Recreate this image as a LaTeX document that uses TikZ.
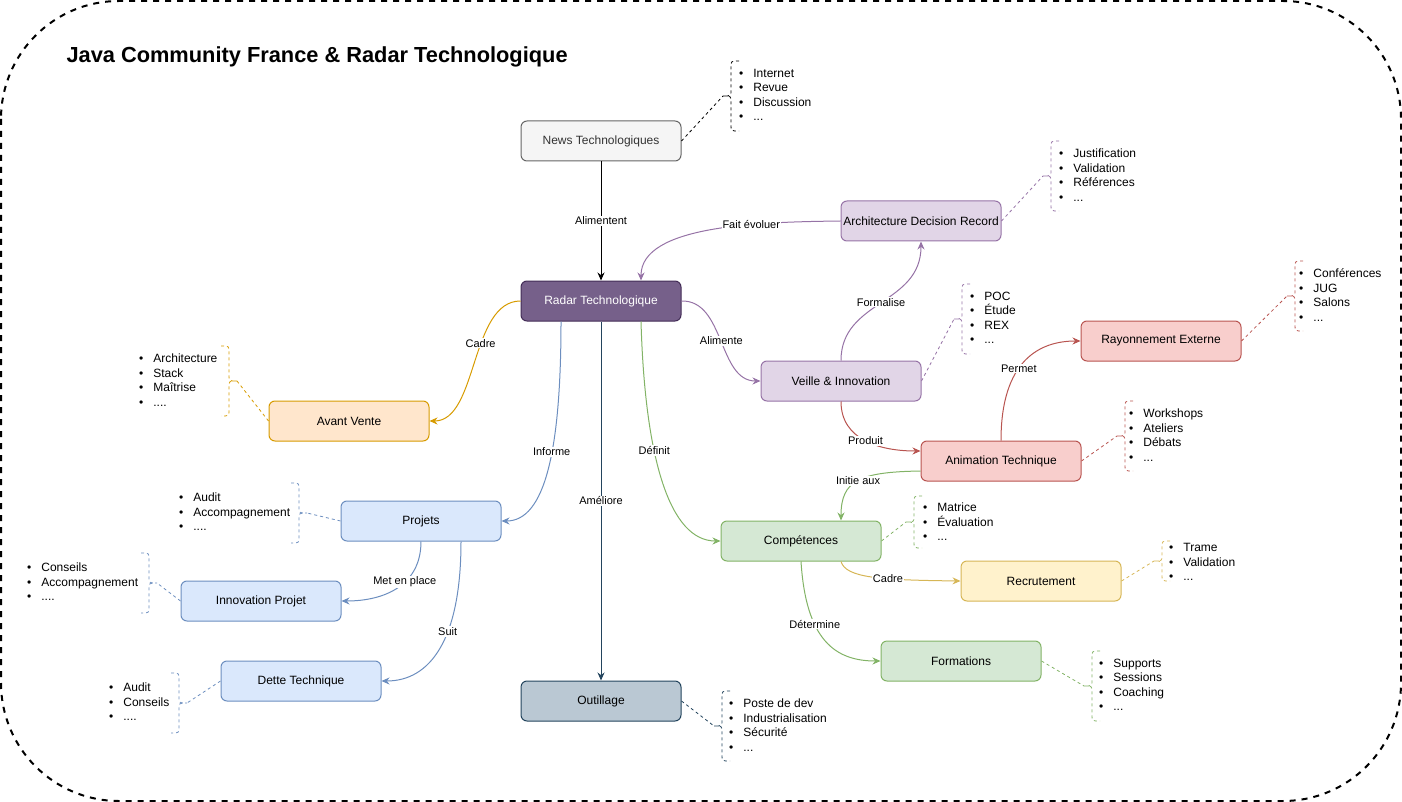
\documentclass[tikz,border=0pt]{standalone}
\usepackage{fontspec}
\setmainfont{Liberation Sans}
\usetikzlibrary{arrows.meta}

\definecolor{newsfill}{HTML}{F5F5F5}
\definecolor{newsline}{HTML}{666666}
\definecolor{newstext}{HTML}{333333}
\definecolor{radarfill}{HTML}{76608A}
\definecolor{radarline}{HTML}{432D57}
\definecolor{violfill}{HTML}{E1D5E7}
\definecolor{violline}{HTML}{9673A6}
\definecolor{rougefill}{HTML}{F8CECC}
\definecolor{rougeline}{HTML}{B85450}
\definecolor{orangefill}{HTML}{FFE6CC}
\definecolor{orangeline}{HTML}{D79B00}
\definecolor{bleufill}{HTML}{DAE8FC}
\definecolor{bleuline}{HTML}{6C8EBF}
\definecolor{vertfill}{HTML}{D5E8D4}
\definecolor{vertline}{HTML}{82B366}
\definecolor{jaunefill}{HTML}{FFF2CC}
\definecolor{jauneline}{HTML}{D6B656}
\definecolor{outilfill}{HTML}{BAC8D3}
\definecolor{outilline}{HTML}{23445D}

\tikzset{
  box/.style={draw, rounded corners=6pt, minimum width=160pt, minimum height=40pt,
    inner sep=0pt, line width=1pt, font=\fontsize{12}{14}\selectfont},
  lien/.style={line width=1pt, ->, >={Stealth[length=8pt,width=7pt]}},
  etiq/.style={fill=white, inner sep=1pt, text=black, font=\fontsize{11}{13}\selectfont},
  annot/.style={line width=0.8pt, dash pattern=on 3pt off 3pt},
  liste/.style={anchor=west, inner sep=0pt, align=left, font=\fontsize{12}{14.5}\selectfont},
  pics/lbrace/.style={code={
    \draw[annot] (8,-#1) .. controls (0,-#1) .. (0,-#1+6) -- (0,-6)
      .. controls (0,0) .. (-8,0) .. controls (0,0) .. (0,6) -- (0,#1-6)
      .. controls (0,#1) .. (8,#1);
    \coordinate (-tip) at (-8,0);
  }},
  pics/rbrace/.style={code={
    \draw[annot] (-8,-#1) .. controls (0,-#1) .. (0,-#1+6) -- (0,-6)
      .. controls (0,0) .. (8,0) .. controls (0,0) .. (0,6) -- (0,#1-6)
      .. controls (0,#1) .. (-8,#1);
    \coordinate (-tip) at (8,0);
  }},
}

\newcommand{\puce}{\textbullet\hspace{10pt}}

\begin{document}
\begin{tikzpicture}[x=1pt, y=-1pt]

\useasboundingbox (0,0) rectangle (1402,802);
\draw [line width=2pt, dash pattern=on 6pt off 6pt, rounded corners=118pt] (1,1) rectangle (1401,801);

\node [anchor=base west, font=\bfseries\fontsize{21.8}{26}\selectfont] (titre) at (63,63) {Java Community France \& Radar Technologique};

% boites
\node [box, fill=newsfill, draw=newsline, text=newstext] (news) at (601,141) {News Technologiques};
\node [box, fill=radarfill, draw=radarline, text=white] (radar) at (601,301) {Radar Technologique};
\node [box, fill=violfill, draw=violline] (adr) at (921,221) {Architecture Decision Record};
\node [box, fill=violfill, draw=violline] (veille) at (841,381) {Veille \& Innovation};
\node [box, fill=rougefill, draw=rougeline] (rayon) at (1161,341) {Rayonnement Externe};
\node [box, fill=rougefill, draw=rougeline] (anim) at (1001,461) {Animation Technique};
\node [box, fill=orangefill, draw=orangeline] (avant) at (349,421) {Avant Vente};
\node [box, fill=bleufill, draw=bleuline] (projets) at (421,521) {Projets};
\node [box, fill=bleufill, draw=bleuline] (innov) at (261,601) {Innovation Projet};
\node [box, fill=bleufill, draw=bleuline] (dette) at (301,681) {Dette Technique};
\node [box, fill=vertfill, draw=vertline] (compet) at (801,541) {Compétences};
\node [box, fill=jaunefill, draw=jauneline] (recrut) at (1041,581) {Recrutement};
\node [box, fill=vertfill, draw=vertline] (form) at (961,661) {Formations};
\node [box, fill=outilfill, draw=outilline] (outil) at (601,701) {Outillage};

% liens
\draw [lien] (news) -- node[etiq] {Alimentent} (radar);
\draw [lien, violline] (adr.west) .. controls (760,222) and (641,225) .. ([xshift=40pt]radar.north) node[etiq, pos=0.34] {Fait évoluer};
\draw [lien, violline] (radar.east) .. controls (725,300) and (718,381) .. (veille.west) node[etiq, pos=0.5] {Alimente};
\draw [lien, violline] (veille.north) .. controls (841,300) and (921,305) .. (adr.south) node[etiq, pos=0.5] {Formalise};
\draw [lien, rougeline] (veille.south) .. controls (841,440) and (880,451) .. ([yshift=10pt]anim.west) node[etiq, pos=0.5] {Produit};
\draw [lien, rougeline] (anim.north) .. controls (1001,360) and (1040,341) .. (rayon.west) node[etiq, pos=0.42] {Permet};
\draw [lien, vertline] ([yshift=-10pt]anim.west) .. controls (860,472) and (841,480) .. ([xshift=40pt]compet.north) node[etiq, pos=0.5] {Initie aux};
\draw [lien, orangeline] (radar.west) .. controls (470,301) and (478,421) .. (avant.east) node[etiq, pos=0.4] {Cadre};
\draw [lien, bleuline] ([xshift=-40pt]radar.south) .. controls (561,450) and (545,521) .. (projets.east) node[etiq, pos=0.42] {Informe};
\draw [lien, outilline] (radar) -- node[etiq] {Améliore} (outil);
\draw [lien, vertline] ([xshift=40pt]radar.south) .. controls (645,460) and (670,541) .. (compet.west) node[etiq, pos=0.37] {Définit};
\draw [lien, bleuline] (projets.south) .. controls (421,585) and (385,601) .. (innov.east) node[etiq, pos=0.41] {Met en place};
\draw [lien, bleuline] ([xshift=40pt]projets.south) .. controls (461,640) and (430,681) .. (dette.east) node[etiq, pos=0.39] {Suit};
\draw [lien, jauneline] ([xshift=40pt]compet.south) .. controls (846,578) and (880,580) .. (recrut.west) node[etiq, pos=0.62] {Cadre};
\draw [lien, vertline] (compet.south) .. controls (806,640) and (835,661) .. (form.west) node[etiq, pos=0.35] {Détermine};

% accolades et listes
\pic [black] (newsb) at (731,96) {lbrace=35};
\draw [annot] (news.east) -- (newsb-tip);
\node [liste] (newsl) at (739,95) {\puce Internet\\\puce Revue\\\puce Discussion\\\puce ...};

\pic [violline] (adrb) at (1051,176) {lbrace=35};
\draw [annot, violline] (adr.east) -- (adrb-tip);
\node [liste] (adrl) at (1059,175) {\puce Justification\\\puce Validation\\\puce Références\\\puce ...};

\pic [violline] (veilleb) at (962,319) {lbrace=35};
\draw [annot, violline] (veille.east) -- (veilleb-tip);
\node [liste] (veillel) at (970,318) {\puce POC\\\puce Étude\\\puce REX\\\puce ...};

\pic [rougeline] (rayonb) at (1295,296) {lbrace=35};
\draw [annot, rougeline] (rayon.east) -- (rayonb-tip);
\node [liste] (rayonl) at (1299,295) {\puce Conférences\\\puce JUG\\\puce Salons\\\puce ...};

\pic [rougeline] (animb) at (1125,436) {lbrace=35};
\draw [annot, rougeline] (anim.east) -- (animb-tip);
\node [liste] (animl) at (1129,435) {\puce Workshops\\\puce Ateliers\\\puce Débats\\\puce ...};

\pic [orangeline] (avantb) at (229,381) {rbrace=35};
\draw [annot, orangeline] (avant.west) -- (avantb-tip);
\node [liste] (avantl) at (139,380) {\puce Architecture\\\puce Stack\\\puce Maîtrise\\\puce ....};

\pic [bleuline] (projetsb) at (299,513) {rbrace=30};
\draw [annot, bleuline] (projets.west) -- (projetsb-tip);
\node [liste] (projetsl) at (179,512) {\puce Audit\\\puce Accompagnement\\\puce ....};

\pic [bleuline] (innovb) at (149,583) {rbrace=30};
\draw [annot, bleuline] (innov.west) -- (innovb-tip);
\node [liste] (innovl) at (27,582) {\puce Conseils\\\puce Accompagnement\\\puce ....};

\pic [bleuline] (detteb) at (179,703) {rbrace=30};
\draw [annot, bleuline] (dette.west) -- (detteb-tip);
\node [liste] (dettel) at (109,702) {\puce Audit\\\puce Conseils\\\puce ....};

\pic [vertline] (competb) at (914,522) {lbrace=26};
\draw [annot, vertline] (compet.east) -- (competb-tip);
\node [liste] (competl) at (923,522) {\puce Matrice\\\puce Évaluation\\\puce ...};

\pic [jauneline] (recrutb) at (1162,561) {lbrace=20};
\draw [annot, jauneline] (recrut.east) -- (recrutb-tip);
\node [liste] (recrutl) at (1169,562) {\puce Trame\\\puce Validation\\\puce ...};

\pic [vertline] (formb) at (1092,686) {lbrace=35};
\draw [annot, vertline] (form.east) -- (formb-tip);
\node [liste] (forml) at (1099,685) {\puce Supports\\\puce Sessions\\\puce Coaching\\\puce ...};

\pic [outilline] (outilb) at (722,726) {lbrace=35};
\draw [annot, outilline] (outil.east) -- (outilb-tip);
\node [liste] (outill) at (729,725) {\puce Poste de dev\\\puce Industrialisation\\\puce Sécurité\\\puce ...};

\end{tikzpicture}
\end{document}
